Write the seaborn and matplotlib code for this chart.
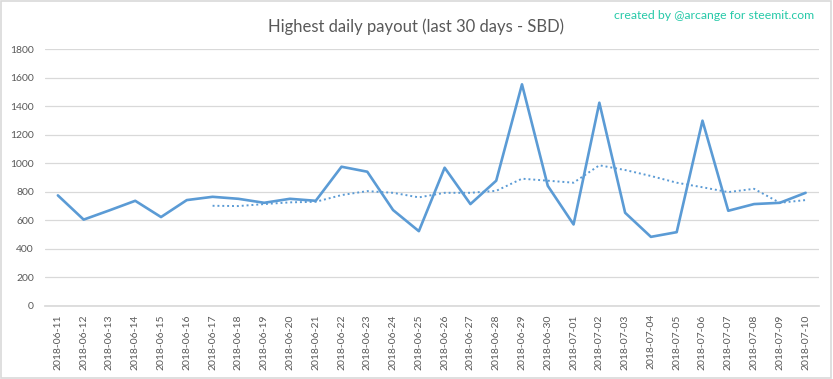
import numpy as np
import pandas as pd
import matplotlib
matplotlib.use("Agg")
import matplotlib.pyplot as plt
import seaborn as sns

dates = ["2018-06-11", "2018-06-12", "2018-06-13", "2018-06-14", "2018-06-15",
         "2018-06-16", "2018-06-17", "2018-06-18", "2018-06-19", "2018-06-20",
         "2018-06-21", "2018-06-22", "2018-06-23", "2018-06-24", "2018-06-25",
         "2018-06-26", "2018-06-27", "2018-06-28", "2018-06-29", "2018-06-30",
         "2018-07-01", "2018-07-02", "2018-07-03", "2018-07-04", "2018-07-05",
         "2018-07-06", "2018-07-07", "2018-07-08", "2018-07-09", "2018-07-10"]
payout = [775, 605, 670, 737, 623, 742, 765, 751, 723, 751,
          737, 976, 941, 672, 524, 969, 714, 878, 1554, 842,
          571, 1425, 653, 484, 517, 1299, 667, 714, 723, 793]
# 7-day moving average trend (starts on the 7th day)
trend_dates = dates[6:]
trend = [702, 700, 714, 726, 730, 777, 805, 793, 761, 793,
         793, 807, 892, 878, 864, 986, 953, 911, 864, 832,
         798, 821, 723, 742]
yticks = [0, 200, 400, 600, 800, 1000, 1200, 1400, 1600, 1800]

sns.set_theme(style="white")
plt.rcParams['font.family'] = ['Lato', 'DejaVu Sans']

df = pd.DataFrame({"date": dates, "payout": payout})
df["pos"] = range(len(dates))
tr = pd.DataFrame({"date": trend_dates, "trend": trend})
tr["pos"] = [dates.index(d) for d in trend_dates]

fig = plt.figure(figsize=(8.33, 3.79), dpi=100)
ax = fig.add_axes([0.054, 0.193, 0.9286, 0.677])

blue = "#5B9BD5"
grey = "#595959"
sns.lineplot(data=df, x="pos", y="payout", ax=ax, color=blue, linewidth=1.9)
sns.lineplot(data=tr, x="pos", y="trend", ax=ax, color=blue, linewidth=1.4,
             linestyle=(0, (1, 1.5)))

ax.set_xlim(-0.5, len(dates) - 0.5)
ax.set_ylim(0, 1800)
ax.set_yticks(yticks)
ax.set_yticklabels([str(v) for v in yticks], color=grey, fontsize=7.5)
ax.set_xticks(range(len(dates)))
ax.set_xticklabels(dates, rotation=90, color=grey, fontsize=7.5)
ax.tick_params(axis="both", length=0, pad=8)
ax.tick_params(axis="x", pad=6)
ax.grid(axis="y", color="#D9D9D9", linewidth=0.9)
ax.set_axisbelow(True)
for s in ["top", "right", "left"]:
    ax.spines[s].set_visible(False)
ax.spines["bottom"].set_color("#D9D9D9")
ax.set_xlabel("")
ax.set_ylabel("")

fig.text(0.4995, 0.930, "Highest daily payout (last 30 days - SBD)",
         ha="center", va="center", fontsize=12, color=grey)
fig.text(0.857, 0.958, "created by @arcange for steemit.com",
         ha="center", va="center", fontsize=8.8, color="#26C9A8")

fig.patches.append(plt.Rectangle((0.001, 0.002), 0.997, 0.995, transform=fig.transFigure,
                                 fill=False, edgecolor="#D9D9D9", linewidth=1.2))

fig.savefig("out.png", dpi=100)
plt.close(fig)
